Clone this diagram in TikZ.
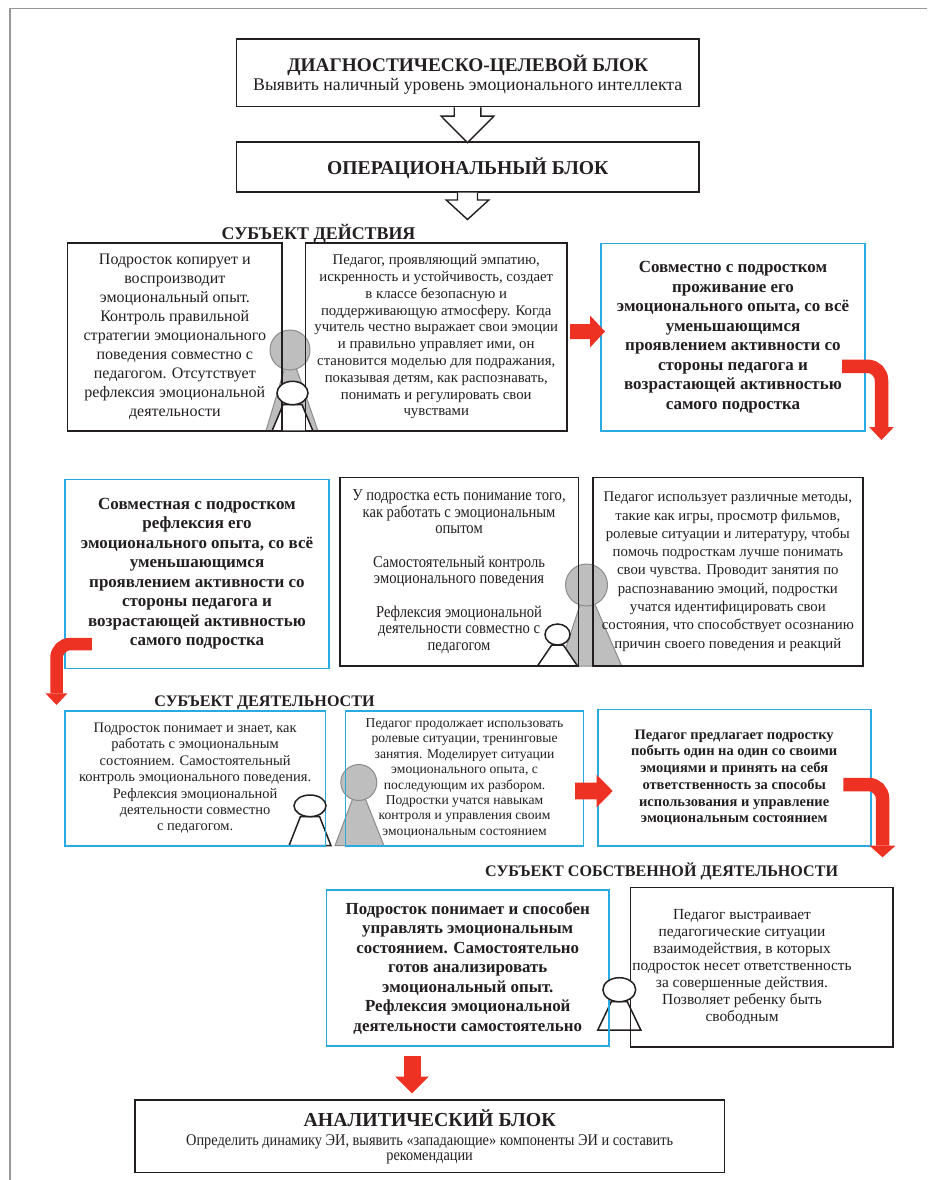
\documentclass[tikz,border=0pt]{standalone}
\usepackage{fontspec}
\setmainfont{Liberation Serif}
\newfontfamily\condf[FakeStretch=0.88]{Liberation Serif}
\usetikzlibrary{calc}
\definecolor{ink}{RGB}{35,31,32}
\definecolor{cyanb}{RGB}{41,171,226}
\definecolor{redA}{RGB}{237,50,36}
\definecolor{figfill}{RGB}{190,190,190}
\definecolor{figline}{RGB}{140,140,140}
\definecolor{framec}{RGB}{150,150,150}
\tikzset{
  box/.style={draw=ink, line width=1.6pt, inner sep=0pt, align=center, text=ink},
  bbox/.style={box, draw=cyanb},
  txt/.style={inner sep=0pt, text=ink, anchor=base},
  hollow/.style={draw=ink, line width=1.4pt, fill=white, line join=miter},
  band/.style={draw=redA, line width=13.5pt, rounded corners=14pt},
  tfig/.style={fill=figfill, draw=figline, line width=1pt},
  sfig/.style={fill=white, draw=ink, line width=1.5pt},
}
% teacher: cx, cy, r, base left, base right, base y
\newcommand\figT[6]{%
  \filldraw[tfig] (#1,#2) -- (#4,#6) -- (#5,#6) -- cycle;
  \filldraw[tfig] (#1,#2) circle[radius=#3pt];}
% student body: cx, top y, top half width, base half width, base y
\newcommand\figSbody[5]{%
  \filldraw[sfig] ({#1-#3},#2) -- ({#1-#4},#5) -- ({#1+#4},#5) -- ({#1+#3},#2) -- cycle;}
% student head: cx, cy, rx, ry
\newcommand\figShead[4]{%
  \filldraw[sfig] (#1,#2) ellipse[x radius=#3pt, y radius=#4pt];}
% red straight arrow to the right: start, tip, shaft half, head half, head length
\newcommand\redright[5]{%
  \fill[redA] ($(#1)+(0,-#3)$) -- ($(#2)+(-#5,-#3)$) -- ($(#2)+(-#5,-#4)$) -- (#2)
    -- ($(#2)+(-#5,#4)$) -- ($(#2)+(-#5,#3)$) -- ($(#1)+(0,#3)$) -- cycle;}
% red head pointing down: base centre, tip, half width
\newcommand\redhead[3]{%
  \fill[redA] ($(#1)+(-#3,0)$) -- ($(#1)+(#3,0)$) -- (#2) -- cycle;}
% hollow arrow: from, tip, head length, shaft half width, head half width
\newcommand\hollowarrow[5]{%
  \filldraw[hollow] ($(#1)+(-#4,0)$) -- ($(#2)+(-#4,-#3)$) -- ($(#2)+(-#5,-#3)$) -- (#2)
    -- ($(#2)+(#5,-#3)$) -- ($(#2)+(#4,-#3)$) -- ($(#1)+(#4,0)$);}
\begin{document}
\begin{tikzpicture}[x=1pt,y=-1pt]
\useasboundingbox (0,0) rectangle (927,1180);
\fill[white] (0,0) rectangle (927,1180);
\draw[framec, line width=1.2pt] (10,1180) -- (10,8.5) -- (927,8.5);

% ---------- figures (behind) ----------
\figT{290}{350}{20}{266}{318}{431}
\figT{586.5}{585}{21}{560}{621.7}{666}
\figT{358.8}{782.5}{18}{335}{384}{845.7}
\figSbody{292.5}{404.7}{9.5}{20.5}{431}
\figSbody{557.5}{645}{5.8}{20}{666}
\figSbody{310}{816.6}{9.6}{21}{845.7}
\figSbody{619.3}{1001.7}{8}{21.5}{1030}

% ---------- top blocks ----------
\node[box, minimum width=462.5pt, minimum height=67.4pt] (b1) at (467.75,73) {};
\node[txt, font={\bfseries\fontsize{19.3}{23}\selectfont}] (t1) at (467.75,71.7) {ДИАГНОСТИЧЕСКО-ЦЕЛЕВОЙ БЛОК};
\node[txt, font={\fontsize{17.8}{20}\selectfont}] (s1) at (467.75,90.5) {Выявить наличный уровень эмоционального интеллекта};
\node[box, minimum width=462.5pt, minimum height=50pt] (b2) at (467.75,166.7) {};
\node[txt, font={\bfseries\fontsize{19.6}{23}\selectfont}] (t2) at (467.75,174.3) {ОПЕРАЦИОНАЛЬНЫЙ БЛОК};
\coordinate (h1tip) at (467.5,142.7);
\coordinate (h2tip) at (467.5,219.5);
\hollowarrow{b1.south -| h1tip}{h1tip}{26.5}{13.3}{26.3}
\hollowarrow{b2.south -| h2tip}{h2tip}{19.5}{10}{21.3}

% ---------- row 1 ----------
\node[txt, font={\bfseries\fontsize{17.9}{20}\selectfont}] (l1) at (318.5,239.3) {СУБЪЕКТ ДЕЙСТВИЯ};
\node[box, minimum width=214.4pt, minimum height=188.3pt, font={\fontsize{16}{19}\selectfont}] (bA) at (174.8,336.85)
 {Подросток копирует и\\воспроизводит\\эмоциональный опыт.\\Контроль правильной\\стратегии эмоционального\\поведения совместно с\\педагогом. Отсутствует\\рефлексия эмоциональной\\деятельности};
\node[box, minimum width=261.5pt, minimum height=188.3pt, font={\fontsize{14.8}{16.8}\selectfont}] (bB) at (436.25,336.85)
 {Педагог, проявляющий эмпатию,\\искренность и устойчивость, создает\\в классе безопасную и\\поддерживающую атмосферу. Когда\\учитель честно выражает свои эмоции\\и правильно управляет ими, он\\становится моделью для подражания,\\показывая детям, как распознавать,\\понимать и регулировать свои\\чувствами};
\node[bbox, minimum width=264pt, minimum height=187.7pt, font={\bfseries\fontsize{17}{19.5}\selectfont}] (bC) at (733,337.15)
 {Совместно с подростком\\проживание его\\эмоционального опыта, со всё\\уменьшающимся\\проявлением активности со\\стороны педагога и\\возрастающей активностью\\самого подростка};

% ---------- row 2 ----------
\node[bbox, minimum width=264pt, minimum height=189pt, font={\bfseries\fontsize{17}{19.5}\selectfont}] (bD) at (197,573.8)
 {Совместная с подростком\\рефлексия его\\эмоционального опыта, со всё\\уменьшающимся\\проявлением активности со\\стороны педагога и\\возрастающей активностью\\самого подростка};
\node[box, minimum width=238.5pt, minimum height=188.7pt, font={\condf\fontsize{16.6}{16.7}\selectfont}] (bE) at (459.05,571.65)
 {У подростка есть понимание того,\\как работать с эмоциональным\\опытом\\[16.7pt]Самостоятельный контроль\\эмоционального поведения\\[16.7pt]Рефлексия эмоциональной\\деятельности совместно с\\педагогом};
\node[box, minimum width=270.3pt, minimum height=188.7pt, font={\fontsize{14.8}{18.3}\selectfont}] (bF) at (727.85,571.65)
 {Педагог использует различные методы,\\такие как игры, просмотр фильмов,\\ролевые ситуации и литературу, чтобы\\помочь подросткам лучше понимать\\свои чувства. Проводит занятия по\\распознаванию эмоций, подростки\\учатся идентифицировать свои\\состояния, что способствует осознанию\\причин своего поведения и реакций};

% ---------- row 3 ----------
\node[txt, font={\bfseries\fontsize{16.1}{19}\selectfont}] (l2) at (264.5,706.7) {СУБЪЕКТ ДЕЯТЕЛЬНОСТИ};
\node[bbox, minimum width=260.3pt, minimum height=134.7pt, font={\fontsize{14.5}{16.4}\selectfont}] (bG) at (195.15,778.35)
 {Подросток понимает и знает, как\\работать с эмоциональным\\состоянием. Самостоятельный\\контроль эмоционального поведения.\\Рефлексия эмоциональной\\деятельности совместно\\с педагогом.};
\node[bbox, minimum width=237.9pt, minimum height=134.7pt, font={\fontsize{13.6}{15.4}\selectfont}] (bH) at (464.55,778.35)
 {Педагог продолжает использовать\\ролевые ситуации, тренинговые\\занятия. Моделирует ситуации\\эмоционального опыта, с\\последующим их разбором.\\Подростки учатся навыкам\\контроля и управления своим\\эмоциональным состоянием};
\node[bbox, minimum width=273pt, minimum height=136.4pt, font={\bfseries\fontsize{14.5}{16.7}\selectfont}] (bI) at (734.2,777.5)
 {Педагог предлагает подростку\\побыть один на один со своими\\эмоциями и принять на себя\\ответственность за способы\\использования и управление\\эмоциональным состоянием};

% ---------- row 4 ----------
\node[txt, font={\bfseries\fontsize{16.1}{19}\selectfont}] (l3) at (661.6,876) {СУБЪЕКТ СОБСТВЕННОЙ ДЕЯТЕЛЬНОСТИ};
\node[bbox, minimum width=282.5pt, minimum height=156pt, font={\bfseries\fontsize{16.9}{19.5}\selectfont}] (bJ) at (467.75,968)
 {Подросток понимает и способен\\управлять эмоциональным\\состоянием. Самостоятельно\\готов анализировать\\эмоциональный опыт.\\Рефлексия эмоциональной\\деятельности самостоятельно};
\node[box, minimum width=262.6pt, minimum height=159.4pt] (bK) at (761.7,967) {};
\node[inner sep=0pt, align=center, text=ink, font={\fontsize{15.4}{16.9}\selectfont}] (tK) at (742,967)
 {Педагог выстраивает\\педагогические ситуации\\взаимодействия, в которых\\подросток несет ответственность\\за совершенные действия.\\Позволяет ребенку быть\\свободным};

% ---------- analytic block ----------
\node[box, minimum width=589.7pt, minimum height=72.5pt, line width=1.9pt] (bL) at (429.65,1136.25) {};
\node[txt, font={\bfseries\fontsize{19.8}{24}\selectfont}] (t3) at (429.65,1126.7) {АНАЛИТИЧЕСКИЙ БЛОК};
\node[txt, font={\condf\fontsize{16.3}{19}\selectfont}] (s3a) at (429.65,1145.5) {Определить динамику ЭИ, выявить «западающие» компоненты ЭИ и составить};
\node[txt, font={\condf\fontsize{16.3}{19}\selectfont}] (s3b) at (429.65,1160.5) {рекомендации};

% ---------- student heads (front) ----------
\figShead{292.5}{393}{15.5}{11.7}
\figShead{557.5}{634.5}{12.5}{10.5}
\figShead{310}{805.8}{16}{10.8}
\figShead{619.3}{989.7}{16.4}{12}

% ---------- red arrows ----------
\coordinate (r1s) at (570,331.5);
\coordinate (r1t) at (605,331.5);
\redright{r1s}{r1t}{7.5}{16}{15}
\coordinate (c1s) at (842,366.3);
\coordinate (c1b) at (881.5,427);
\coordinate (c1t) at (881.5,440);
\draw[band] (c1s) -- (c1s -| c1b) -- (c1b);
\redhead{c1b}{c1t}{12.4}

\coordinate (c2s) at (91.8,644);
\coordinate (c2b) at (56.5,693.3);
\coordinate (c2t) at (56.5,705);
\draw[band, line width=12.5pt] (c2s) -- (c2s -| c2b) -- (c2b);
\redhead{c2b}{c2t}{11}

\coordinate (r3s) at (575,791);
\coordinate (r3t) at (612.7,791);
\redright{r3s}{r3t}{8.3}{16.3}{16}
\coordinate (c3s) at (843.3,784.5);
\coordinate (c3b) at (882.5,845.7);
\coordinate (c3t) at (882.5,857.3);
\draw[band] (c3s) -- (c3s -| c3b) -- (c3b);
\redhead{c3b}{c3t}{13}

\coordinate (d4s) at (412,1056);
\coordinate (d4b) at (412,1076.7);
\coordinate (d4t) at (412,1093.3);
\draw[draw=redA, line width=17pt] (d4s) -- (d4b);
\redhead{d4b}{d4t}{16.75}
\end{tikzpicture}
\end{document}
